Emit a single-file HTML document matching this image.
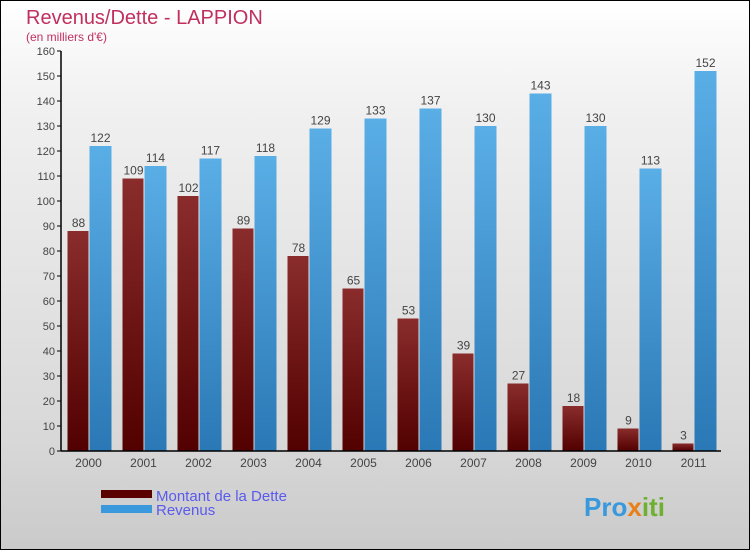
<!DOCTYPE html>
<html><head><meta charset="utf-8"><style>
body{margin:0}
#wrap{position:relative;width:748px;height:548px;border:1px solid #000;background:linear-gradient(#fff,#f0f0f0 20%,#d8d8d8 80%,#cacaca);overflow:hidden;font-family:"Liberation Sans",sans-serif}
</style></head><body>
<div id="wrap">
<svg id="chart" width="748" height="548" xmlns="http://www.w3.org/2000/svg">
<defs>
<linearGradient id="gr" x1="0" x2="0" y1="0" y2="1"><stop offset="0" stop-color="#8a2c2c"/><stop offset="1" stop-color="#520000"/></linearGradient>
<linearGradient id="gb" x1="0" x2="0" y1="0" y2="1"><stop offset="0" stop-color="#5aaee6"/><stop offset="1" stop-color="#2a78b5"/></linearGradient>
</defs>
<text x="25" y="23" font-size="20" fill="#c0305f">Revenus/Dette - LAPPION</text>
<text x="25" y="40" font-size="12" fill="#c0305f">(en milliers d'€)</text>
<g id="grid"></g><g id="bars"></g><g id="axes"></g>
<rect x="100" y="489" width="51" height="8" fill="#5a0000"/>
<rect x="100" y="504" width="51" height="8" fill="#3a98dc"/>
<text x="155" y="500" font-size="15" fill="#5a5aee">Montant de la Dette</text>
<text x="155" y="514" font-size="15" fill="#5a5aee">Revenus</text>
<text x="583" y="515" font-size="26" font-weight="bold" fill="#3a98dc">Pro<tspan fill="#e8801a">x</tspan><tspan fill="#70b030">iti</tspan></text>
</svg>
</div>
<script>
const years=["2000","2001","2002","2003","2004","2005","2006","2007","2008","2009","2010","2011"];
const dette=[88,109,102,89,78,65,53,39,27,18,9,3];
const revenus=[122,114,117,118,129,133,137,130,143,130,113,152];
const yTicks=[0,10,20,30,40,50,60,70,80,90,100,110,120,130,140,150,160];
const NS="http://www.w3.org/2000/svg";
const x0=60,gw=55,yb=450,yt=50,ymax=160;
const y=v=>yb-(v/ymax)*(yb-yt);
const cx=i=>x0+gw*i+gw/2;
function mk(t,a,p){const e=document.createElementNS(NS,t);for(const k in a)e.setAttribute(k,a[k]);p.appendChild(e);return e;}
const axes=document.getElementById('axes'),bars=document.getElementById('bars');
yTicks.forEach(v=>{
 const l=mk('line',{x1:x0-4,x2:x0,y1:y(v),y2:y(v),stroke:'#000'},axes);
 
 
 const t=mk('text',{x:x0-6,y:y(v)+4,'text-anchor':'end','font-size':11,fill:'#444'},axes);
 t.textContent=v;
 
 
});
years.forEach((yr,i)=>{
 const c=cx(i);
 const r=mk('rect',{x:c-21,y:y(dette[i]),width:21,height:yb-y(dette[i]),fill:'url(#gr)'},bars);
 
 
 const b=mk('rect',{x:c+1,y:y(revenus[i]),width:22,height:yb-y(revenus[i]),fill:'url(#gb)'},bars);
 
 
 const t1=mk('text',{x:c-10,y:y(dette[i])-4,'text-anchor':'middle','font-size':12,fill:'#444'},bars);
 t1.textContent=dette[i];
 
 
 const t2=mk('text',{x:c+12,y:y(revenus[i])-4,'text-anchor':'middle','font-size':12,fill:'#444'},bars);
 t2.textContent=revenus[i];
 
 
 const xl=mk('text',{x:c,y:466,'text-anchor':'middle','font-size':12,fill:'#444'},axes);
 xl.textContent=yr;
 
 
});
const ya=mk('line',{x1:x0,x2:x0,y1:yt,y2:yb,stroke:'#000','stroke-width':1.5},axes);


const xa=mk('line',{x1:x0,x2:x0+gw*12,y1:yb,y2:yb,stroke:'#000','stroke-width':1.5},axes);


</script>
</body></html>
